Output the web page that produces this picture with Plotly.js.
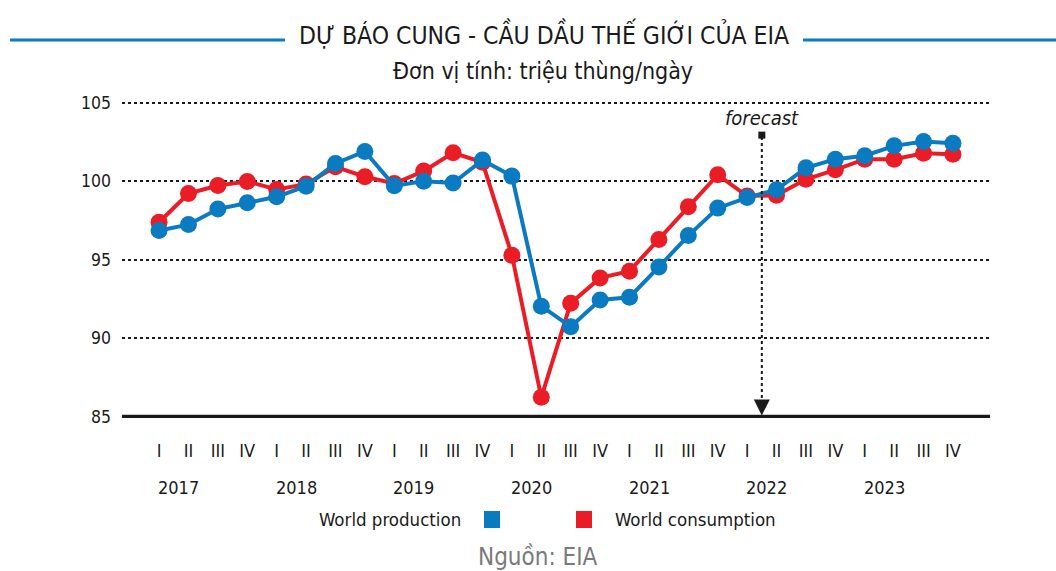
<!DOCTYPE html>
<html>
<head>
<meta charset="utf-8">
<script src="https://cdn.plot.ly/plotly-3.0.1.min.js"></script>
<style>
  html, body { margin: 0; padding: 0; background: #fff; }
  #chart { width: 1056px; height: 571px; }
</style>
</head>
<body>
<div id="chart"></div>
<script>
const years = ['2017', '2018', '2019', '2020', '2021', '2022', '2023'];
const quarters = ['I', 'II', 'III', 'IV'];
const production = [96.85, 97.23, 98.22, 98.62, 99.0, 99.68, 101.13, 101.89,
                    99.7, 100.0, 99.88, 101.34, 100.32, 92.03, 90.72, 92.42,
                    92.6, 94.53, 96.53, 98.28, 98.95, 99.45, 100.85, 101.4,
                    101.62, 102.25, 102.52, 102.42];
const consumption = [97.38, 99.21, 99.72, 99.98, 99.47, 99.81, 100.91, 100.28,
                     99.85, 100.64, 101.81, 101.2, 95.28, 86.22, 92.22, 93.83,
                     94.26, 96.28, 98.36, 100.4, 99.05, 99.1, 100.12, 100.72,
                     101.4, 101.4, 101.78, 101.72];
const yTicks = [85, 90, 95, 100, 105];
const forecastStart = '2022 I';

const cats = [];
const qText = [];
years.forEach(y => quarters.forEach(q => { cats.push(y + ' ' + q); qText.push(q); }));

const BLUE = '#0a7ac1';
const RED = '#ea1d27';
const FONT = '"Liberation Sans Narrow", "DejaVu Sans Condensed", "Roboto", sans-serif';

// plot area: x 122..990 px, y 98..418 px
const PW = 868, PB = 418, PH = 320;
const px = X => (X - 122) / PW;
const py = Y => (PB - Y) / PH;

const traces = [
  { x: cats, y: consumption, name: 'World consumption', type: 'scatter', mode: 'lines+markers',
    line: { color: RED, width: 4 }, marker: { color: RED, size: 17 }, cliponaxis: false },
  { x: cats, y: production, name: 'World production', type: 'scatter', mode: 'lines+markers',
    line: { color: BLUE, width: 4 }, marker: { color: BLUE, size: 17 }, cliponaxis: false }
];

const annotations = [
  { text: 'DỰ BÁO CUNG - CẦU DẦU THẾ GIỚI CỦA EIA', xref: 'paper', yref: 'paper', x: px(543.5), y: py(34),
    xanchor: 'center', yanchor: 'middle', showarrow: false, font: { family: FONT, size: 24.5, color: '#1a1a1a' } },
  { text: 'Đơn vị tính: triệu thùng/ngày', xref: 'paper', yref: 'paper', x: px(543), y: py(71),
    xanchor: 'center', yanchor: 'middle', showarrow: false, font: { family: FONT, size: 23, color: '#1a1a1a' } },
  { text: '<i>forecast</i>', xref: 'x', yref: 'paper', x: 20.5, y: py(118),
    xanchor: 'center', yanchor: 'middle', showarrow: false, font: { family: FONT, size: 20, color: '#1a1a1a' } },
  { text: 'World production', xref: 'paper', yref: 'paper', x: px(463), y: py(519),
    xanchor: 'right', yanchor: 'middle', showarrow: false, font: { family: FONT, size: 18.5, color: '#1a1a1a' } },
  { text: 'World consumption', xref: 'paper', yref: 'paper', x: px(613), y: py(519),
    xanchor: 'left', yanchor: 'middle', showarrow: false, font: { family: FONT, size: 18.5, color: '#1a1a1a' } },
  { text: 'Nguồn: EIA', xref: 'paper', yref: 'paper', x: px(538), y: py(557),
    xanchor: 'center', yanchor: 'middle', showarrow: false, font: { family: FONT, size: 24, color: '#7a7a7a' } }
];
years.forEach(y => {
  annotations.push({ text: y, xref: 'x', yref: 'paper', x: y + ' I', y: py(487), xshift: -3,
    xanchor: 'left', yanchor: 'middle', showarrow: false, font: { family: FONT, size: 18, color: '#1a1a1a' } });
});

const fx = cats.indexOf(forecastStart) + 0.5;
const shapes = [
  { type: 'line', xref: 'paper', yref: 'paper', x0: px(10), x1: px(285), y0: py(40), y1: py(40),
    line: { color: BLUE, width: 3 } },
  { type: 'line', xref: 'paper', yref: 'paper', x0: px(803), x1: px(1060), y0: py(40), y1: py(40),
    line: { color: BLUE, width: 3 } },
  { type: 'line', xref: 'paper', yref: 'y', x0: 0, x1: 1, y0: 85, y1: 85,
    line: { color: '#1a1a1a', width: 3.5 } },
  { type: 'line', xref: 'x', yref: 'y', x0: fx, x1: fx, y0: 85.8, y1: 102.9,
    line: { color: '#1a1a1a', width: 2, dash: 'dot' } },
  { type: 'rect', xref: 'x', yref: 'y', xsizemode: 'pixel', ysizemode: 'pixel', xanchor: fx, yanchor: 102.9,
    x0: -3.5, x1: 3.5, y0: -3, y1: 4, fillcolor: '#1a1a1a', line: { width: 0 } },
  { type: 'path', xref: 'x', yref: 'y', xsizemode: 'pixel', ysizemode: 'pixel', xanchor: fx, yanchor: 85,
    path: 'M -8 17 L 8 17 L 0 1 Z', fillcolor: '#1a1a1a', line: { width: 0 } },
  { type: 'rect', xref: 'paper', yref: 'paper', x0: px(484), x1: px(500),
    y0: py(528), y1: py(511), fillcolor: BLUE, line: { width: 0 } },
  { type: 'rect', xref: 'paper', yref: 'paper', x0: px(576), x1: px(592),
    y0: py(528), y1: py(511), fillcolor: RED, line: { width: 0 } }
];

const layout = {
  width: 1056, height: 571,
  margin: { l: 122, r: 66, t: 98, b: 153 },
  paper_bgcolor: '#ffffff', plot_bgcolor: '#ffffff',
  showlegend: false,
  font: { family: FONT, color: '#1a1a1a' },
  xaxis: {
    type: 'category', categoryorder: 'array', categoryarray: cats,
    range: [-1.26, 28.26], tickvals: cats, ticktext: qText,
    showgrid: false, zeroline: false, showline: false, ticks: '',
    ticklabelstandoff: 20, tickfont: { family: FONT, size: 18, color: '#1a1a1a' }, fixedrange: true
  },
  yaxis: {
    range: [84.9, 105.3], tickvals: yTicks, showgrid: true, gridcolor: '#1a1a1a', gridwidth: 2, griddash: 'dot',
    zeroline: false, showline: false, ticks: '', ticklabelstandoff: 10,
    tickfont: { family: FONT, size: 17.5, color: '#1a1a1a' }, fixedrange: true
  },
  annotations: annotations,
  shapes: shapes
};

Plotly.newPlot('chart', traces, layout, { displayModeBar: false, staticPlot: true });
</script>
</body>
</html>
